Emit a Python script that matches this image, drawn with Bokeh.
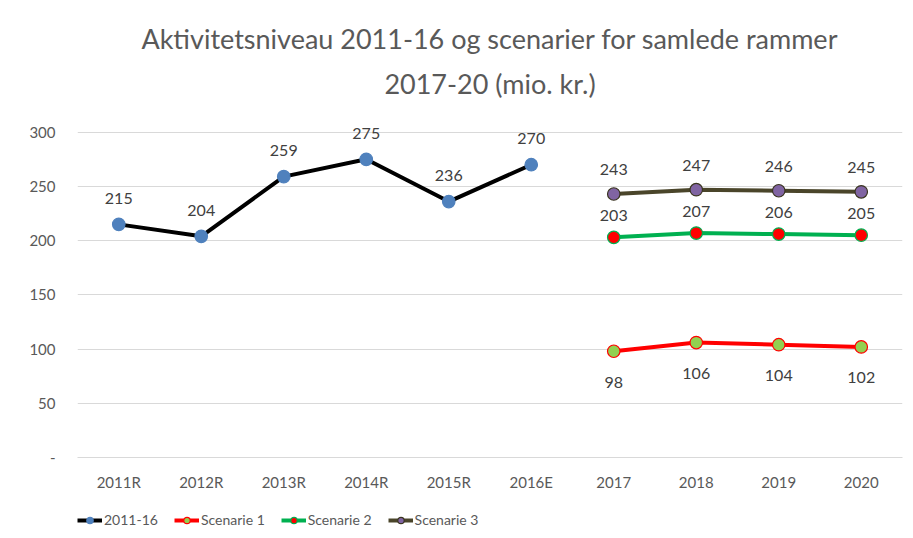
from bokeh.plotting import figure
from bokeh.layouts import column
from bokeh.models import (Range1d, FactorRange, FixedTicker, Legend, LegendItem,
                          ColumnDataSource, Title)
from bokeh.core.properties import value
from bokeh.embed import file_html
from bokeh.resources import INLINE

categories = ["2011R", "2012R", "2013R", "2014R", "2015R", "2016E", "2017", "2018", "2019", "2020"]
hist_cats = ["2011R", "2012R", "2013R", "2014R", "2015R", "2016E"]
hist_vals = [215, 204, 259, 275, 236, 270]
scen_cats = ["2017", "2018", "2019", "2020"]
scen1_vals = [98, 106, 104, 102]
scen2_vals = [203, 207, 206, 205]
scen3_vals = [243, 247, 246, 245]
y_ticks = [0, 50, 100, 150, 200, 250, 300]
title_lines = ["Aktivitetsniveau 2011-16 og scenarier for samlede rammer", "2017-20 (mio. kr.)"]
legend_labels = ["2011-16", "Scenarie 1", "Scenarie 2", "Scenarie 3"]

FONT = "Lato"
GREY = "#595959"

p = figure(width=913, height=505, x_range=FactorRange(*categories), y_range=Range1d(0, 320),
           output_backend="svg", toolbar_location=None,
           min_border_left=77, min_border_right=11, min_border_bottom=48, min_border_top=110)

def style_title(t):
    t.align = "center"
    t.text_font = FONT
    t.text_font_size = "27px"
    t.text_font_style = "normal"
    t.text_color = GREY

p.title.text = title_lines[0]
style_title(p.title)
p.title.standoff = -2
t2 = Title(text=title_lines[1])
style_title(t2)
t2.standoff = 22
p.add_layout(t2, "above")

p.outline_line_color = None
p.background_fill_color = "white"
p.border_fill_color = "white"
p.xgrid.grid_line_color = None
p.ygrid.grid_line_color = "#d9d9d9"
p.ygrid.ticker = FixedTicker(ticks=y_ticks)

p.yaxis.ticker = FixedTicker(ticks=y_ticks)
p.yaxis.major_label_overrides = {0: "-"}
p.yaxis.axis_line_color = None
p.yaxis.major_tick_line_color = None
p.yaxis.major_tick_out = 0
p.yaxis.minor_tick_line_color = None
p.yaxis.major_label_standoff = 22
p.yaxis.major_label_text_font = FONT
p.yaxis.major_label_text_font_size = "15px"
p.yaxis.major_label_text_color = GREY

p.xaxis.axis_line_color = "#d9d9d9"
p.xaxis.major_tick_line_color = None
p.xaxis.major_tick_out = 0
p.xaxis.minor_tick_line_color = None
p.xaxis.major_label_standoff = 15
p.xaxis.major_label_text_font = FONT
p.xaxis.major_label_text_font_size = "15px"
p.xaxis.major_label_text_color = GREY

styles = [("black", "#4f81bd", "#4f81bd", -26),
          ("#ff0000", "#92d050", "#ff0000", 31),
          ("#00b050", "#ff0000", "#00b050", -22),
          ("#4a452a", "#8064a2", "#3a3520", -24)]
data = [(hist_cats, hist_vals), (scen_cats, scen1_vals), (scen_cats, scen2_vals), (scen_cats, scen3_vals)]

sources = []
for (cats, vals), (lc, fc, oc, off) in zip(data, styles):
    src = ColumnDataSource(dict(x=cats, y=vals, t=[str(v) for v in vals]))
    sources.append(src)
    p.line("x", "y", source=src, line_color=lc, line_width=4)
    p.scatter("x", "y", source=src, size=12.5, fill_color=fc, line_color=oc, line_width=1.2)
    p.text("x", "y", text="t", source=src, y_offset=off, text_align="center",
           text_baseline="middle", text_font=value(FONT), text_font_size="16px", text_color="#404040")

# legend strip below the chart (same sources, drawn out of view; only the legend shows)
p2 = figure(width=913, height=33, output_backend="svg", toolbar_location=None,
            x_range=FactorRange(*categories), y_range=Range1d(1000, 1001),
            x_axis_location=None, y_axis_location=None, title_location=None,
            min_border=0, outline_line_color=None)
p2.grid.grid_line_color = None
items = []
for lab, src, (lc, fc, oc, off) in zip(legend_labels, sources, styles):
    l = p2.line("x", "y", source=src, line_color=lc, line_width=4)
    s = p2.scatter("x", "y", source=src, size=12, fill_color=fc, line_color=oc, line_width=1.2)
    items.append(LegendItem(label=lab, renderers=[l, s]))
legend = Legend(items=items, orientation="horizontal", location=(0, 10), spacing=16,
                glyph_width=25, glyph_height=16, label_standoff=2,
                label_text_font=FONT, label_text_font_size="14px",
                label_text_color=GREY, border_line_color=None, background_fill_alpha=0,
                padding=0, margin=0)
p2.add_layout(legend, "center")

layout = column(p, p2, spacing=0)
open("out.html", "w").write(file_html(layout, INLINE))
